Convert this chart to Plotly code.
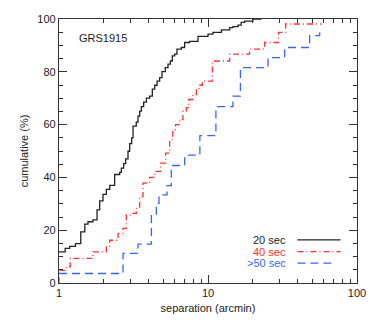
import plotly.graph_objects as go

# separation (arcmin) where each step occurs, and cumulative percentage after the step
sep_20 = [1.0, 1.10, 1.18, 1.29, 1.40, 1.49, 1.565, 1.69, 1.80, 1.875, 1.974, 2.078, 2.19,
          2.364, 2.554, 2.62, 2.716, 2.80, 2.905, 2.98, 3.074, 3.14, 3.30, 3.39, 3.48, 3.57,
          3.70, 3.86, 4.06, 4.23, 4.39, 4.55, 4.74, 4.91, 5.17, 5.39, 5.59, 5.76, 5.97, 6.19,
          6.62, 6.97, 7.53, 8.57, 10.0, 10.8, 12.3, 13.98, 14.7, 15.9, 16.7, 17.6, 20.0, 22.8]
cum_20 = [11.8, 13.1, 13.9, 14.9, 19.4, 22.3, 23.2, 23.9, 27.7, 31.1, 33.6, 35.5, 37.0,
          41.1, 41.9, 43.5, 45.2, 47.0, 49.9, 52.8, 55.0, 59.4, 60.9, 63.2, 65.1, 66.8,
          68.5, 70.0, 70.8, 73.4, 74.9, 76.5, 77.8, 80.1, 81.6, 82.9, 84.1, 86.0, 86.7, 88.6,
          89.2, 91.1, 91.5, 93.4, 94.3, 94.9, 95.9, 96.7, 97.1, 97.7, 98.7, 99.2, 100.0, 100.0]

sep_40 = [1.0, 1.0, 1.12, 1.19, 1.69, 2.08, 2.19, 2.49, 2.69, 2.83, 3.06, 3.30, 3.48, 3.66,
          4.06, 4.40, 4.80, 5.20, 5.53, 5.80, 6.05, 6.45, 6.79, 7.15, 7.42, 7.93, 8.35,
          8.70, 9.16, 10.7, 13.98, 19.0, 24.0, 29.8, 33.2, 57.6]
cum_40 = [0.0, 4.8, 6.1, 9.3, 11.8, 13.7, 16.2, 18.8, 20.7, 25.8, 26.4, 28.3, 32.7, 37.8,
          40.0, 42.3, 45.4, 49.2, 54.3, 58.1, 60.0, 61.9, 65.1, 66.4, 69.5, 71.4, 73.6,
          74.9, 76.5, 84.1, 86.7, 88.6, 91.1, 94.9, 98.1, 98.1]

sep_50 = [1.0, 2.69, 3.39, 4.17, 4.50, 4.69, 5.31, 5.67, 6.97, 8.82, 11.3, 14.7, 16.5,
          25.3, 32.7, 48.1, 56.2]
cum_50 = [3.6, 11.2, 14.7, 26.1, 30.2, 33.4, 36.9, 44.5, 48.4, 55.8, 66.8, 70.8, 81.6,
          85.4, 89.2, 93.7, 96.8]

series = [
    ("20 sec", sep_20, cum_20, "#222222", "solid"),
    ("40 sec", sep_40, cum_40, "#ff3030", "6px,3px,1px,3px"),
    (">50 sec", sep_50, cum_50, "#3366ff", "8px,5px"),
]

FONT = "Liberation Sans, Arial, sans-serif"

fig = go.Figure()
legend_y = [0.163, 0.119, 0.075]
legend_end = [0.945, 0.945, 0.925]
for (name, xs, ys, col, dash), ly, lx1 in zip(series, legend_y, legend_end):
    fig.add_trace(go.Scatter(
        x=xs, y=ys, mode="lines", name=name, line_shape="hv",
        line=dict(color=col, width=1.3, dash=dash), showlegend=False,
    ))
    # IDL-style legend: text on the left, sample line on the right
    fig.add_annotation(x=0.768, y=ly, xref="paper", yref="paper", text=name,
                       showarrow=False, xanchor="right", yanchor="middle",
                       font=dict(family=FONT, size=11, color=col))
    fig.add_shape(type="line", xref="paper", yref="paper", x0=0.80, x1=lx1,
                  y0=ly, y1=ly, line=dict(color=col, width=1.3, dash=dash))

fig.add_annotation(x=0.06, y=0.928, xref="paper", yref="paper", text="GRS1915",
                   showarrow=False, xanchor="left", yanchor="middle",
                   font=dict(family=FONT, size=11, color="#222"))

axis_common = dict(
    showgrid=False, zeroline=False, showline=True, linecolor="#333", linewidth=1.2,
    mirror="allticks", ticks="inside", tickcolor="#333", tickwidth=1, automargin=False,
    tickfont=dict(family=FONT, size=11, color="#222"),
)
fig.update_xaxes(
    type="log", range=[0, 2], ticklen=8,
    tickvals=[1, 10, 100], ticktext=["1", "10", "100"],
    minor=dict(ticks="inside", ticklen=4, tickcolor="#333", dtick="D1", showgrid=False),
    title=dict(text="separation (arcmin)", font=dict(family=FONT, size=11, color="#222"), standoff=6),
    **axis_common,
)
fig.update_yaxes(
    range=[0, 100], dtick=20, ticklen=8,
    minor=dict(ticks="inside", ticklen=4, tickcolor="#333", dtick=5, showgrid=False),
    title=dict(text="cumulative (%)", font=dict(family=FONT, size=11, color="#222"), standoff=6),
    **axis_common,
)
# the page body adds an 8px offset, so the figure is sized to land the frame at the reference spot
fig.update_layout(
    width=366, height=313,
    margin=dict(l=51, r=17, t=11, b=38),
    paper_bgcolor="white", plot_bgcolor="white",
    showlegend=False,
)

fig.write_html("out.html")
